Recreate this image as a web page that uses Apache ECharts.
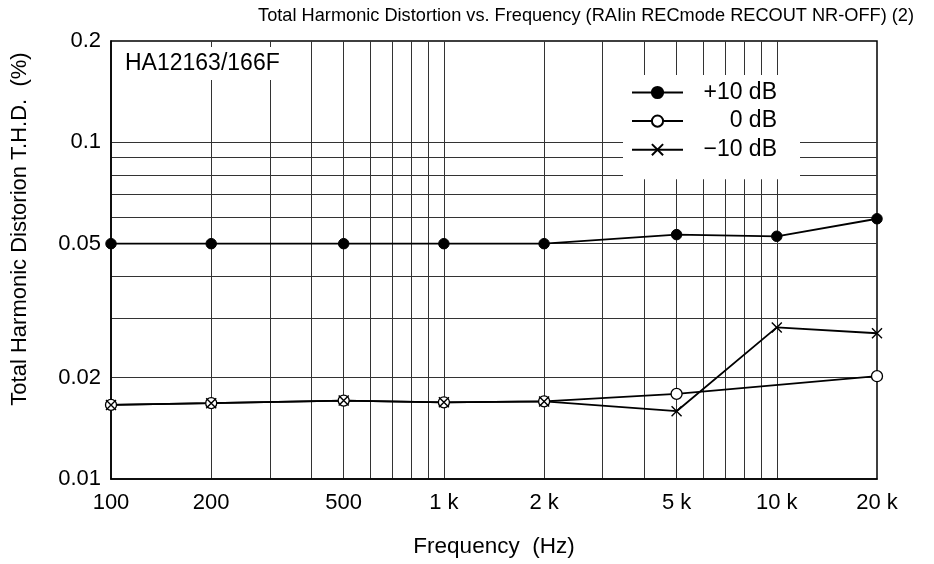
<!DOCTYPE html>
<html>
<head>
<meta charset="utf-8">
<script src="https://cdn.jsdelivr.net/npm/echarts@6/dist/echarts.min.js"></script>
<style>html,body{margin:0;padding:0;background:#fff}#c{width:934px;height:564px}</style>
</head>
<body>
<div id="c"></div>
<script>
// ---- data ----
const seriesNames = ['+10 dB', '0 dB', '\u221210 dB'];
const freqPlus10 = [100, 200, 500, 1000, 2000, 5000, 10000, 20000];
const thdPlus10  = [0.050, 0.050, 0.050, 0.050, 0.050, 0.0532, 0.0526, 0.0593];
const freqZero   = [100, 200, 500, 1000, 2000, 5000, 20000];
const thdZero    = [0.0166, 0.0168, 0.0171, 0.0169, 0.0170, 0.0179, 0.0202];
const freqMinus10 = [100, 200, 500, 1000, 2000, 5000, 10000, 20000];
const thdMinus10  = [0.0166, 0.0168, 0.0171, 0.0169, 0.0170, 0.0159, 0.0282, 0.0271];

const xTickLabels = [100, 200, 500, 1000, 2000, 5000, 10000, 20000];
const xGridValues = [200, 300, 400, 500, 600, 700, 800, 900, 1000, 2000, 3000, 4000, 5000, 6000, 7000, 8000, 9000, 10000];
const yTickLabels = [0.01, 0.02, 0.05, 0.1, 0.2];
const yGridValues = [0.02, 0.03, 0.04, 0.05, 0.06, 0.07, 0.08, 0.09, 0.1];

const titleText = 'Total Harmonic Distortion vs. Frequency (RAIin RECmode RECOUT NR-OFF) (2)';
const deviceText = 'HA12163/166F';
const xName = 'Frequency  (Hz)';
const yName = 'Total Harmonic Distorion T.H.D.  (%)';

const FONT = '"Liberation Sans", Arial, Helvetica, sans-serif';
const pairs = (xs, ys) => xs.map((x, i) => [x, ys[i]]);
const xSymbol = 'path://M0,0L10,10M0,10L10,0';

const chart = echarts.init(document.getElementById('c'), null, {renderer: 'canvas'});
chart.setOption({
  animation: false,
  backgroundColor: '#fff',
  textStyle: {fontFamily: FONT, color: '#000'},
  title: [
    {text: titleText, right: 20, top: 7, padding: 0,
     textStyle: {fontFamily: FONT, fontSize: 18.2, fontWeight: 'normal', color: '#000'}},
    {text: deviceText, left: 119, top: 47, padding: [5, 7, 5, 6], backgroundColor: '#fff',
     textStyle: {fontFamily: FONT, fontSize: 23, fontWeight: 'normal', color: '#000'}}
  ],
  legend: {
    data: seriesNames,
    orient: 'vertical',
    left: 623, top: 75,
    padding: [6, 23, 18, 8],
    backgroundColor: '#fff',
    itemWidth: 51, itemHeight: 14, itemGap: 5.6,
    selectedMode: false,
    formatter: name => '{a|' + name + '}',
    textStyle: {fontFamily: FONT, fontSize: 23, color: '#000',
      rich: {a: {width: 89, align: 'right', fontFamily: FONT, fontSize: 23, color: '#000'}}}
  },
  grid: {left: 111, right: 57, top: 41, bottom: 85, show: true, borderColor: '#000', borderWidth: 1.5, containLabel: false},
  xAxis: {
    type: 'log', logBase: 10, min: 100, max: 20000,
    name: xName, nameLocation: 'middle', nameGap: 56,
    nameTextStyle: {fontFamily: FONT, fontSize: 22.5, color: '#000'},
    axisLine: {show: true, lineStyle: {color: '#000', width: 1.5}},
    axisTick: {show: false, customValues: xGridValues},
    axisLabel: {customValues: xTickLabels, margin: 13, fontFamily: FONT, fontSize: 22, color: '#000',
      formatter: v => v >= 1000 ? Math.round(v / 1000) + ' k' : String(Math.round(v))},
    splitLine: {show: true, lineStyle: {color: '#333', width: 1}},
    minorSplitLine: {show: false}
  },
  yAxis: {
    type: 'log', logBase: 10, min: 0.01, max: 0.2,
    name: yName, nameLocation: 'middle', nameGap: 80, nameRotate: 90,
    nameTextStyle: {fontFamily: FONT, fontSize: 22, color: '#000', padding: [0, 0, 0, 62]},
    axisLine: {show: true, lineStyle: {color: '#000', width: 1.5}},
    axisTick: {show: false, customValues: yGridValues},
    axisLabel: {customValues: yTickLabels, margin: 10, fontFamily: FONT, fontSize: 22, color: '#000',
      formatter: v => String(+v.toPrecision(3))},
    splitLine: {show: true, lineStyle: {color: '#333', width: 1}},
    minorSplitLine: {show: false}
  },
  series: [
    {name: seriesNames[0], type: 'line', data: pairs(freqPlus10, thdPlus10),
     symbol: 'circle', symbolSize: 10.5, showAllSymbol: true,
     itemStyle: {color: '#000', borderColor: '#000', borderWidth: 1},
     lineStyle: {color: '#000', width: 1.8}, emphasis: {disabled: true}},
    {name: seriesNames[1], type: 'line', data: pairs(freqZero, thdZero),
     symbol: 'circle', symbolSize: 11, showAllSymbol: true,
     itemStyle: {color: '#fff', borderColor: '#000', borderWidth: 1.3},
     lineStyle: {color: '#000', width: 1.8}, emphasis: {disabled: true}},
    {name: seriesNames[2], type: 'line', data: pairs(freqMinus10, thdMinus10),
     symbol: xSymbol, symbolSize: 10, showAllSymbol: true,
     itemStyle: {color: 'rgba(0,0,0,0)', borderColor: '#000', borderWidth: 1.4},
     lineStyle: {color: '#000', width: 1.8}, emphasis: {disabled: true}}
  ]
});
</script>
</body>
</html>
